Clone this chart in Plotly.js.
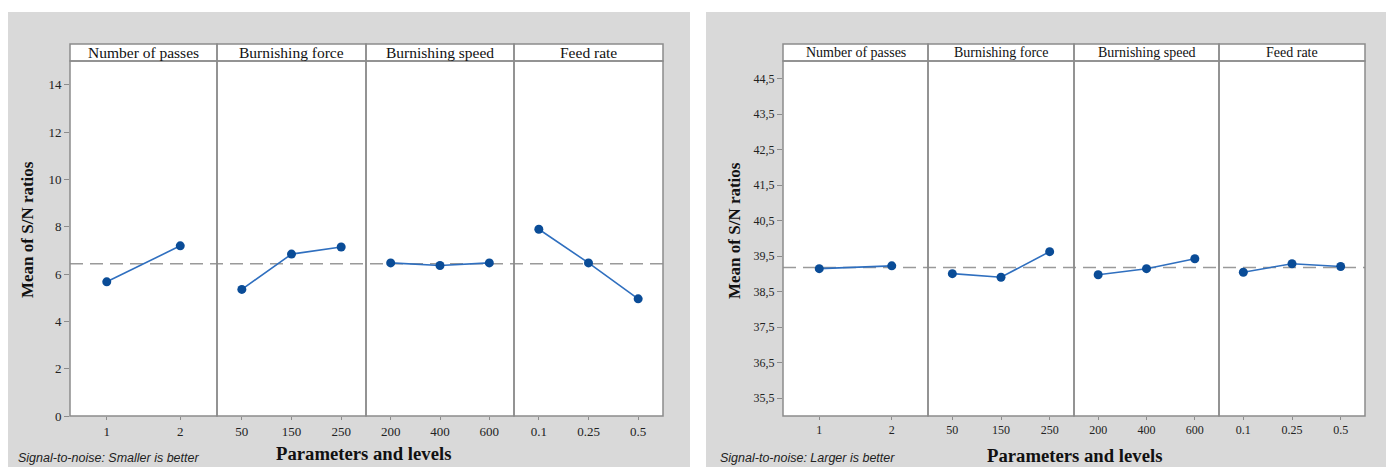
<!DOCTYPE html>
<html>
<head>
<meta charset="utf-8">
<script src="https://cdn.plot.ly/plotly-3.0.1.min.js"></script>
<style>html,body{margin:0;padding:0;background:#fff;}#chart{width:1391px;height:467px;}</style>
</head>
<body>
<div id="chart"></div>
<script>
// ---- Data ----
const factors = ["Number of passes", "Burnishing force", "Burnishing speed", "Feed rate"];
const levelsPasses = ["1", "2"];
const levelsForce = ["50", "150", "250"];
const levelsSpeed = ["200", "400", "600"];
const levelsFeed = ["0.1", "0.25", "0.5"];

// Left chart: Smaller is better
const snSmallPasses = [5.67, 7.19];
const snSmallForce = [5.35, 6.84, 7.14];
const snSmallSpeed = [6.47, 6.36, 6.47];
const snSmallFeed = [7.89, 6.47, 4.95];

// Right chart: Larger is better
const snLargePasses = [39.15, 39.23];
const snLargeForce = [39.01, 38.91, 39.63];
const snLargeSpeed = [38.98, 39.15, 39.43];
const snLargeFeed = [39.05, 39.29, 39.21];

const leftTickVals = [0, 2, 4, 6, 8, 10, 12, 14];
const leftTickText = ["0", "2", "4", "6", "8", "10", "12", "14"];
const rightTickVals = [35.5, 36.5, 37.5, 38.5, 39.5, 40.5, 41.5, 42.5, 43.5, 44.5];
const rightTickText = ["35,5", "36,5", "37,5", "38,5", "39,5", "40,5", "41,5", "42,5", "43,5", "44,5"];

const notes = ["Signal-to-noise: Smaller is better", "Signal-to-noise: Larger is better"];
const xTitle = "Parameters and levels";
const yTitle = "Mean of S/N ratios";

// ---- Layout geometry (pixels) ----
const W = 1391, H = 467;
const px = v => v / W;
const py = v => 1 - v / H;
const leftBounds = [70, 217, 366, 514, 663];
const rightBounds = [783, 928, 1074, 1219, 1365];
const plotTop = 61, plotBottom = 416, headTop = 44;

const levels = [levelsPasses, levelsForce, levelsSpeed, levelsFeed];
const leftVals = [snSmallPasses, snSmallForce, snSmallSpeed, snSmallFeed];
const rightVals = [snLargePasses, snLargeForce, snLargeSpeed, snLargeFeed];

const mean = arr => arr.reduce((a, b) => a + b, 0) / arr.length;
const grandMean = vals => mean(vals.map(mean));

const lineColor = "#2f6fbf";
const markerColor = "#0a4c97";
const frameColor = "#8c8c8c";
const serif = "'Liberation Serif', 'Times New Roman', serif";

const traces = [];
const layout = {
  width: W, height: H,
  margin: {l: 0, r: 0, t: 0, b: 0},
  paper_bgcolor: "#ffffff",
  plot_bgcolor: "rgba(0,0,0,0)",
  showlegend: false,
  shapes: [],
  annotations: []
};

// gray backgrounds
layout.shapes.push({type: "rect", xref: "paper", yref: "paper", x0: px(8), x1: px(690), y0: 0, y1: py(12), fillcolor: "#d9d9d9", line: {width: 0}, layer: "below"});
layout.shapes.push({type: "rect", xref: "paper", yref: "paper", x0: px(706), x1: px(1386), y0: 0, y1: py(12), fillcolor: "#d9d9d9", line: {width: 0}, layer: "below"});

function buildChart(side, bounds, valsList, yName, tickVals, tickText, yRange, tickSize, headSize) {
  const yKey = yName === "y" ? "yaxis" : "yaxis" + yName.slice(1);
  // white plot area
  layout.shapes.push({type: "rect", xref: "paper", yref: "paper",
    x0: px(bounds[0]), x1: px(bounds[4]), y0: py(plotBottom), y1: py(headTop),
    fillcolor: "#ffffff", line: {width: 0}, layer: "below"});
  for (let i = 0; i < 4; i++) {
    const idx = side * 4 + i + 1;
    const xName = idx === 1 ? "x" : "x" + idx;
    const xKey = idx === 1 ? "xaxis" : "xaxis" + idx;
    traces.push({
      type: "scatter", mode: "lines+markers",
      x: levels[i], y: valsList[i],
      xaxis: xName, yaxis: yName,
      line: {color: lineColor, width: 1.6},
      marker: {color: markerColor, size: 9},
      hoverinfo: "x+y"
    });
    layout[xKey] = {
      domain: [px(bounds[i]), px(bounds[i + 1])],
      anchor: yName,
      type: "category",
      range: [-0.5, levels[i].length - 0.5],
      showgrid: false, zeroline: false, showline: false,
      ticks: "outside", ticklen: 3, tickcolor: frameColor,
      tickfont: {family: serif, size: tickSize, color: "#222"},
      fixedrange: true
    };
    // panel frame
    layout.shapes.push({type: "rect", xref: "paper", yref: "paper",
      x0: px(bounds[i]), x1: px(bounds[i + 1]), y0: py(plotBottom), y1: py(plotTop),
      line: {color: frameColor, width: 1.5}, fillcolor: "rgba(0,0,0,0)", layer: "above"});
    // header strip
    layout.shapes.push({type: "rect", xref: "paper", yref: "paper",
      x0: px(bounds[i]), x1: px(bounds[i + 1]), y0: py(plotTop), y1: py(headTop),
      line: {color: frameColor, width: 1.5}, fillcolor: "rgba(0,0,0,0)", layer: "above"});
    layout.annotations.push({xref: "paper", yref: "paper",
      x: px((bounds[i] + bounds[i + 1]) / 2), y: py((plotTop + headTop) / 2),
      text: factors[i], showarrow: false, xanchor: "center", yanchor: "middle",
      font: {family: serif, size: headSize, color: "#111"}});
  }
  const firstX = side === 0 ? "x" : "x5";
  layout[yKey] = {
    domain: [py(plotBottom), py(plotTop)],
    anchor: firstX,
    range: yRange,
    tickmode: "array", tickvals: tickVals, ticktext: tickText,
    showgrid: false, zeroline: false, showline: false,
    ticks: "outside", ticklen: 5, tickcolor: frameColor,
    tickfont: {family: serif, size: tickSize, color: "#222"},
    fixedrange: true
  };
  // mean dashed line
  const gm = grandMean(valsList);
  layout.shapes.push({type: "line", xref: "paper", yref: yName,
    x0: px(bounds[0]), x1: px(bounds[4]), y0: gm, y1: gm,
    line: {color: "#9a9a9a", width: 1.5, dash: "13px,7px"}, layer: "below"});
}

buildChart(0, leftBounds, leftVals, "y", leftTickVals, leftTickText, [0, 15], 13, 15.5);
buildChart(1, rightBounds, rightVals, "y2", rightTickVals, rightTickText, [35, 45], 12, 14);

// axis titles and notes
const titleDefs = [
  {xc: 363, xy: 453, yl: 28, note: notes[0], noteX: 16},
  {xc: 1074, xy: 455, yl: 735, note: notes[1], noteX: 718}
];
titleDefs.forEach(d => {
  layout.annotations.push({xref: "paper", yref: "paper", x: px(d.xc), y: py(d.xy),
    text: "<b>" + xTitle + "</b>", showarrow: false, xanchor: "center", yanchor: "middle",
    font: {family: serif, size: 18.7, color: "#111"}});
  layout.annotations.push({xref: "paper", yref: "paper", x: px(d.yl), y: py(230),
    text: "<b>" + yTitle + "</b>", showarrow: false, textangle: -90, xanchor: "center", yanchor: "middle",
    font: {family: serif, size: 17, color: "#111"}});
  layout.annotations.push({xref: "paper", yref: "paper", x: px(d.noteX), y: py(458),
    text: "<i>" + d.note + "</i>", showarrow: false, xanchor: "left", yanchor: "middle",
    font: {family: "'Liberation Sans', Arial, sans-serif", size: 12.5, color: "#222"}});
});

Plotly.newPlot("chart", traces, layout, {staticPlot: true, displayModeBar: false});
</script>
</body>
</html>
